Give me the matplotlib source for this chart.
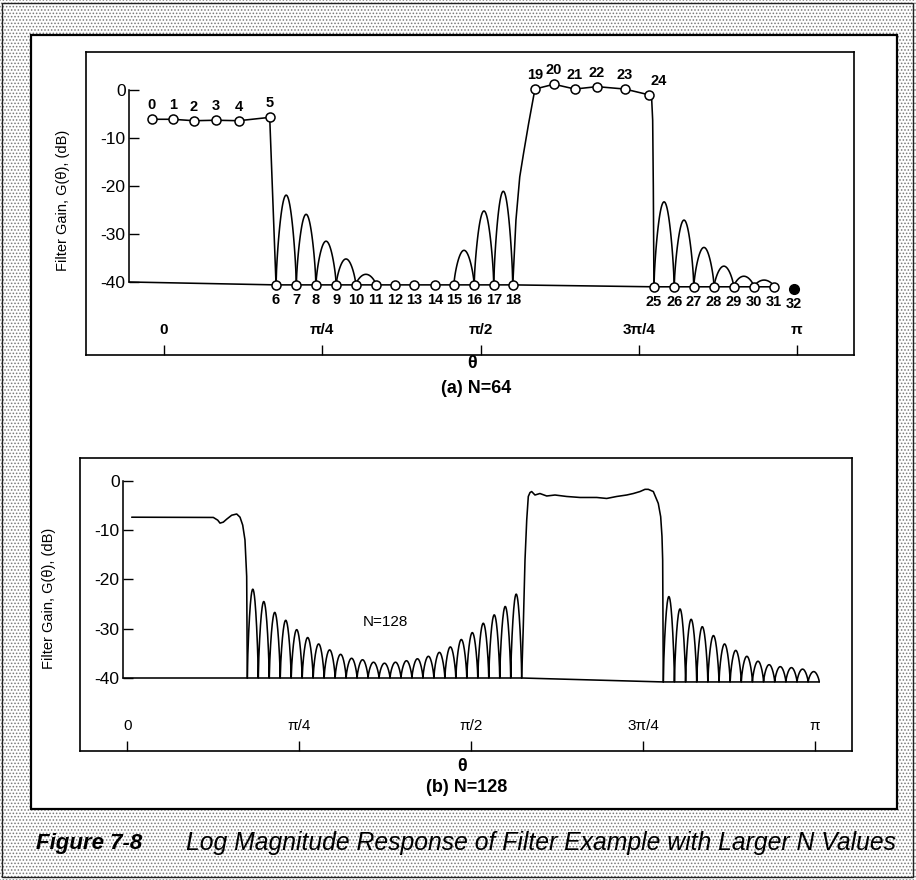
import numpy as np
import matplotlib
matplotlib.use("Agg")
import matplotlib.pyplot as plt
from matplotlib.patches import Rectangle
from matplotlib.lines import Line2D

plt.rcParams['font.family'] = ['Liberation Sans', 'DejaVu Sans']
plt.rcParams['hatch.linewidth'] = 0.7

# ---------------- N = 64 : frequency samples (theta in units of pi, gain in dB) ----------------
bins_64 = list(range(33))
theta_64 = [-0.019, 0.014, 0.047, 0.082, 0.118, 0.167, 0.177, 0.209, 0.240, 0.272,
            0.303, 0.335, 0.365, 0.395, 0.428, 0.458, 0.490, 0.521, 0.551, 0.586,
            0.616, 0.649, 0.684, 0.728, 0.766, 0.774, 0.806, 0.837, 0.869, 0.900,
            0.932, 0.964, 0.995]
gain_64 = [-6.1, -6.1, -6.4, -6.3, -6.4, -5.7,
           -40.6, -40.6, -40.6, -40.6, -40.6, -40.6, -40.6, -40.6, -40.6, -40.6, -40.6, -40.6, -40.6,
           0.2, 1.2, 0.2, 0.7, 0.2, -1.0,
           -41.0, -41.0, -41.0, -41.0, -41.0, -41.0, -41.0, -41.5]
labels_above_64 = [0, 1, 2, 3, 4, 5, 19, 20, 21, 22, 23, 24]
labels_below_64 = [6, 7, 8, 9, 10, 11, 12, 13, 14, 15, 16, 17, 18,
                   25, 26, 27, 28, 29, 30, 31, 32]
# side lobes between bin k and k+1
lobe_bin_64 = [6, 7, 8, 9, 10, 15, 16, 17, 25, 26, 27, 28, 29, 30]
lobe_peak_64 = [-21.9, -25.9, -31.5, -35.2, -38.4, -33.4, -25.2, -21.1,
                -23.3, -27.1, -32.8, -36.7, -38.8, -39.6]
# transition edges of the upper passband
rise_theta_64 = [0.551, 0.556, 0.562, 0.568, 0.576, 0.586]
rise_gain_64 = [-40.6, -27.1, -18.1, -13.2, -7.0, 0.2]
fall_theta_64 = [0.766, 0.7705, 0.772, 0.773, 0.774]
fall_gain_64 = [-1.0, -2.1, -6.3, -20.0, -41.0]

# ---------------- N = 128 : continuous response ----------------
pass1_theta_128 = [0.0064, 0.1251, 0.1315, 0.1348, 0.1396, 0.1445, 0.1518, 0.1591,
                   0.1639, 0.1678, 0.1711, 0.1736, 0.1745]
pass1_gain_128 = [-7.4, -7.45, -8.0, -8.6, -8.4, -7.8, -7.0, -6.75,
                  -7.4, -9.0, -12.0, -19.4, -40.0]
stop1_span_128 = (0.1745, 0.5735)
stop1_peaks_128 = [-22.0, -24.5, -26.7, -28.3, -30.2, -31.8, -33.1, -34.3, -35.2, -36.0,
                   -36.3, -36.8, -37.0, -36.8, -36.5, -36.1, -35.6, -34.8, -33.7, -32.2,
                   -30.8, -28.9, -27.2, -25.5, -23.0]
pass2_theta_128 = [0.5735, 0.5758, 0.5783, 0.5808, 0.5831, 0.5856, 0.5880, 0.5928, 0.6000,
                   0.6099, 0.6219, 0.6389, 0.6583, 0.6826, 0.6971, 0.7116, 0.7262, 0.7358,
                   0.7455, 0.7528, 0.7576, 0.7649, 0.7721, 0.7756, 0.7775, 0.7785, 0.7794]
pass2_gain_128 = [-40.0, -29.6, -16.1, -8.0, -3.2, -2.4, -2.2, -2.9, -2.6,
                  -3.1, -2.9, -3.2, -3.4, -3.4, -3.6, -3.2, -2.9, -2.6,
                  -2.2, -1.75, -1.75, -2.2, -4.6, -7.3, -11.3, -16.1, -40.8]
stop2_span_128 = (0.7794, 1.0062)
stop2_peaks_128 = [-23.5, -26.0, -28.1, -29.6, -31.4, -33.1, -34.4, -35.6, -36.6, -37.3,
                   -37.7, -37.9, -38.2, -38.7]
stop2_floor_128 = -40.8

theta_ticks = [0, 0.25, 0.5, 0.75, 1.0]
theta_labels = ['0', 'π/4', 'π/2', '3π/4', 'π']
db_ticks = [0, -10, -20, -30, -40]
db_labels = ['0', '-10', '-20', '-30', '-40']

W, H = 916, 880
LW = 1.15
NUM_FONT = ['Liberation Sans Narrow', 'Liberation Sans', 'DejaVu Sans']

fig = plt.figure(figsize=(W / 100, H / 100), dpi=100)
fig.patch.set_facecolor('white')


def fx(px):
    return px / W


def fy(py):
    return 1 - py / H


# stippled page, white plate and thin outer frame
fig.add_artist(Rectangle((0, 0), 1, 1, transform=fig.transFigure, facecolor='white',
                         edgecolor='#7a7a7a', hatch='.....', linewidth=0, zorder=-5))
fig.add_artist(Rectangle((fx(2), fy(877)), fx(913) - fx(2), fy(3) - fy(877),
                         transform=fig.transFigure, fill=False, edgecolor='#222222',
                         linewidth=1.0, zorder=-4))
fig.add_artist(Rectangle((fx(31), fy(809)), fx(897) - fx(31), fy(35) - fy(809),
                         transform=fig.transFigure, facecolor='white', edgecolor='black',
                         linewidth=1.6, zorder=-3))


def make_panel(box, x0px, xpipx, y0py, y40py, yaxis_px, bold):
    l, t, r, b = box
    ax = fig.add_axes([l / W, 1 - b / H, (r - l) / W, (b - t) / H])
    sx = xpipx - x0px
    ax.set_xlim((l - x0px) / sx, (r - x0px) / sx)
    sy = (y40py - y0py) / 40.0
    ax.set_ylim(-(b - y0py) / sy, -(t - y0py) / sy)
    ax.set_facecolor('white')
    for s in ('top', 'right', 'bottom'):
        ax.spines[s].set_linewidth(1.2)
    yx = (yaxis_px - x0px) / sx
    ax.spines['left'].set_position(('data', yx))
    ax.spines['left'].set_bounds(-40, 0)
    ax.spines['left'].set_linewidth(LW)
    ax.add_line(Line2D([0, 0], [0, 1], transform=ax.transAxes, color='black',
                       linewidth=1.2, clip_on=False))
    ax.set_xticks(theta_ticks)
    ax.set_xticklabels(theta_labels)
    ax.tick_params(axis='x', direction='in', length=7, width=1.0, pad=-23, labelsize=11)
    ax.set_yticks(db_ticks)
    ax.set_yticklabels(db_labels)
    ax.tick_params(axis='y', direction='in', length=7.5, width=1.0, pad=2.5, labelsize=12.5)
    for lab in ax.get_xticklabels():
        lab.set_fontweight('bold' if bold else 'normal')
    return ax, yx


def arch(x0, x1, peak, floor, n=41):
    t = np.linspace(0.0, 1.0, n)
    return x0 + (x1 - x0) * t, floor + (peak - floor) * np.sin(np.pi * t) ** 0.7


# ---------------- panel (a) ----------------
ax1, yx1 = make_panel((86, 52, 854, 355), 164, 797, 90, 282, 129, True)
line_kw = dict(color='black', linewidth=LW, solid_capstyle='round', zorder=2)

ax1.plot(theta_64[0:7], gain_64[0:7], **line_kw)
ax1.plot(theta_64[19:25], gain_64[19:25], **line_kw)
ax1.plot(rise_theta_64, rise_gain_64, **line_kw)
ax1.plot(fall_theta_64, fall_gain_64, **line_kw)
floor_bins = [k for k in bins_64 if gain_64[k] < -39 and k < 32]
ax1.plot([yx1] + [theta_64[k] for k in floor_bins],
         [-40.0] + [gain_64[k] for k in floor_bins], **line_kw)
for k, pk in zip(lobe_bin_64, lobe_peak_64):
    lx, ly = arch(theta_64[k], theta_64[k + 1], pk, min(gain_64[k], gain_64[k + 1]))
    ax1.plot(lx, ly, **line_kw)

open_bins = [k for k in bins_64 if k != 32]
ax1.plot([theta_64[k] for k in open_bins], [gain_64[k] for k in open_bins], 'o',
         markersize=6.5, markerfacecolor='white', markeredgecolor='black',
         markeredgewidth=1.1, linestyle='none', zorder=4)
ax1.plot([theta_64[32]], [gain_64[32]], 'o', markersize=7, color='black', zorder=4)

for k in labels_above_64:
    off = (7, 10) if k == 24 else (0, 10)
    ax1.annotate(str(k), (theta_64[k], gain_64[k]), xytext=off, textcoords='offset points',
                 ha='center', va='center', fontsize=10.5, fontweight='bold', family=NUM_FONT)
for k in labels_below_64:
    ax1.annotate(str(k), (theta_64[k], gain_64[k]), xytext=(0, -11), textcoords='offset points',
                 ha='center', va='center', fontsize=10.5, fontweight='bold', family=NUM_FONT)

# ---------------- panel (b) ----------------
ax2, yx2 = make_panel((80, 458, 852, 751), 127.3, 815, 480.7, 678, 123, False)

ax2.plot(pass1_theta_128, pass1_gain_128, **line_kw)
ax2.plot(pass2_theta_128, pass2_gain_128, **line_kw)
ax2.plot([yx2, stop1_span_128[1], stop2_span_128[0], stop2_span_128[1]],
         [-40.0, -40.0, stop2_floor_128, stop2_floor_128], **line_kw)


def lobe_train(ax, span, peaks, floor):
    edges = np.linspace(span[0], span[1], len(peaks) + 1)
    xs, ys = [], []
    for i, pk in enumerate(peaks):
        lx, ly = arch(edges[i], edges[i + 1], pk, floor)
        xs.append(lx)
        ys.append(ly)
    ax.plot(np.concatenate(xs), np.concatenate(ys), **line_kw)


lobe_train(ax2, stop1_span_128, stop1_peaks_128, -40.0)
lobe_train(ax2, stop2_span_128, stop2_peaks_128, stop2_floor_128)
ax2.text(0.3747, -28.6, 'N=128', ha='center', va='center', fontsize=11)

# ---------------- axis titles and captions ----------------
ylab = 'Filter Gain, G(θ), (dB)'
fig.text(fx(63), fy(200), ylab, rotation=90, ha='center', va='center', fontsize=10.5)
fig.text(fx(49), fy(598), ylab, rotation=90, ha='center', va='center', fontsize=10.5)

fig.text(fx(472), fy(364), 'θ', ha='center', va='center', fontsize=13, fontweight='bold')
fig.text(fx(476), fy(388), '(a) N=64', ha='center', va='center', fontsize=13, fontweight='bold')
fig.text(fx(462), fy(766), 'θ', ha='center', va='center', fontsize=13, fontweight='bold')
fig.text(fx(467), fy(787), '(b) N=128', ha='center', va='center', fontsize=13, fontweight='bold')

fig.text(fx(36), fy(843), 'Figure 7-8', ha='left', va='center', fontsize=16,
         fontweight='bold', fontstyle='italic')
fig.text(fx(186), fy(843), 'Log Magnitude Response of Filter Example with Larger N Values',
         ha='left', va='center', fontsize=17.8, fontstyle='italic')

fig.savefig('out.png', dpi=100, facecolor='white')
